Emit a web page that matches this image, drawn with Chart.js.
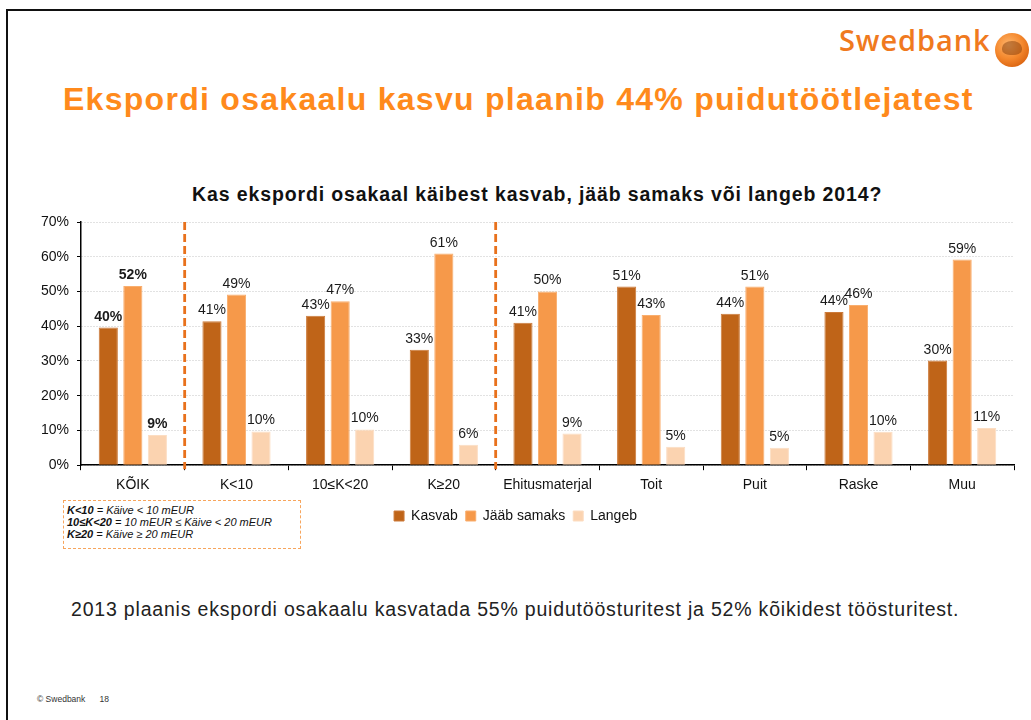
<!DOCTYPE html>
<html>
<head>
<meta charset="utf-8">
<script src="https://cdn.jsdelivr.net/npm/chart.js@4.4.1/dist/chart.umd.min.js"></script>
<style>
  html, body { margin:0; padding:0; background:#fff; }
  body { width:1031px; height:720px; position:relative; overflow:hidden; font-family:'Liberation Sans', Arial, Helvetica, sans-serif; }
  .abs { position:absolute; white-space:nowrap; }
  #frame { left:6px; top:9px; width:1040px; height:720px; border-top:2px solid #111; border-left:2px solid #111; }
  #logoText { left:839px; top:25px; font-family:'Open Sans', sans-serif; font-weight:600; font-size:29px; line-height:29px; color:#F07A1E; letter-spacing:0.9px; }
  #logoCircle { left:995px; top:33px; width:34px; height:34px; border-radius:50%;
    background: radial-gradient(circle at 40% 35%, #FDB66E 0%, #F5892E 45%, #D9620F 80%, #B64E0A 100%); }
  #logoTree { left:1002px; top:41px; width:20px; height:14px; border-radius:50% 50% 40% 40%; background:rgba(120,50,5,0.45); }
  #title { left:63px; top:83px; font-size:32px; line-height:32px; font-weight:bold; color:#FF8A1C; letter-spacing:1.28px; }
  #chartTitle { left:192px; top:185px; font-size:19.5px; line-height:19.5px; font-weight:bold; color:#111; letter-spacing:0.88px; }
  #canvasWrap { left:17px; top:200px; width:1014px; height:333px; }
  #keyBox { left:63px; top:500px; width:233px; height:44px; border:1.5px dashed #F7A55C; background:#fff;
    font-size:11px; line-height:12px; font-style:italic; color:#111; padding:3px 0 0 3px; }
  #bottomText { left:71px; top:600px; font-size:19.5px; line-height:19.5px; color:#222; letter-spacing:0.81px; }
  #footer { left:37px; top:695px; font-size:8.5px; line-height:9px; color:#333; }
</style>
</head>
<body>
<div id="frame" class="abs"></div>
<div id="logoText" class="abs">Swedbank</div>
<div id="logoCircle" class="abs"></div>
<div id="logoTree" class="abs"></div>
<div id="title" class="abs">Ekspordi osakaalu kasvu plaanib 44% puidutöötlejatest</div>
<div id="chartTitle" class="abs">Kas ekspordi osakaal käibest kasvab, jääb samaks või langeb 2014?</div>
<div id="canvasWrap" class="abs"><canvas id="c" width="1014" height="333"></canvas></div>
<div id="keyBox" class="abs"><b>K&lt;10</b> = Käive &lt; 10 mEUR<br><b>10≤K&lt;20</b> = 10 mEUR ≤ Käive &lt; 20 mEUR<br><b>K≥20</b> = Käive ≥ 20 mEUR</div>
<div id="bottomText" class="abs">2013 plaanis ekspordi osakaalu kasvatada 55% puidutöösturitest ja 52% kõikidest töösturitest.</div>
<div id="footer" class="abs">© Swedbank &nbsp;&nbsp;&nbsp;&nbsp;&nbsp;18</div>

<script>
// ---- data ----
const categories = ["KÕIK", "K<10", "10≤K<20", "K≥20", "Ehitusmaterjal", "Toit", "Puit", "Raske", "Muu"];
const seriesNames = ["Kasvab", "Jääb samaks", "Langeb"];
const kasvab     = [39.6, 41.4, 43.0, 33.2, 41.0, 51.4, 43.6, 44.1, 30.1];
const jaabSamaks = [51.6, 49.1, 47.2, 60.9, 50.0, 43.2, 51.4, 46.1, 59.2];
const langeb     = [8.7, 9.7, 10.3, 5.9, 9.1, 5.3, 5.0, 9.6, 10.7];
const yMin = 0, yMax = 70, yStep = 10;
const separatorAfter = [0, 3];   // dashed separators after these category indexes
const boldLabelCategory = 0;     // KÕIK labels are bold

const FONT = "'Liberation Sans', Arial, Helvetica, sans-serif";
Chart.defaults.font.family = FONT;
Chart.defaults.color = '#111';

const colors = ['#BF6418', '#F6994A', '#FBD3B0'];
const borders = ['#CC7A3A', '#F9AE6E', '#FCDDC2'];

const labelPlugin = {
  id: 'barLabels',
  afterDatasetsDraw(chart) {
    const ctx = chart.ctx;
    ctx.save();
    ctx.textAlign = 'center';
    ctx.textBaseline = 'alphabetic';
    ctx.fillStyle = '#1a1a1a';
    chart.data.datasets.forEach((ds, di) => {
      const meta = chart.getDatasetMeta(di);
      meta.data.forEach((el, i) => {
        ctx.font = (i === boldLabelCategory ? 'bold ' : '') + '14px ' + FONT;
        ctx.fillText(Math.round(ds.data[i]) + '%', el.x, el.y - 7);
      });
    });
    ctx.restore();
  }
};

const sepPlugin = {
  id: 'separators',
  afterDatasetsDraw(chart) {
    const ctx = chart.ctx, xs = chart.scales.x, a = chart.chartArea;
    ctx.save();
    ctx.strokeStyle = '#E8711C';
    ctx.lineWidth = 2.8;
    ctx.setLineDash([8, 4]);
    separatorAfter.forEach(i => {
      const x = (xs.getPixelForValue(i) + xs.getPixelForValue(i + 1)) / 2;
      ctx.beginPath();
      ctx.moveTo(x, a.top);
      ctx.lineTo(x, a.bottom + 4);
      ctx.stroke();
    });
    ctx.restore();
  }
};

new Chart(document.getElementById('c'), {
  type: 'bar',
  data: {
    labels: categories,
    datasets: [
      { label: seriesNames[0], data: kasvab, backgroundColor: colors[0], borderColor: borders[0], borderWidth: 1 },
      { label: seriesNames[1], data: jaabSamaks, backgroundColor: colors[1], borderColor: borders[1], borderWidth: 1 },
      { label: seriesNames[2], data: langeb, backgroundColor: colors[2], borderColor: borders[2], borderWidth: 1 }
    ]
  },
  options: {
    responsive: false,
    animation: false,
    devicePixelRatio: 1,
    layout: { padding: { top: 22, right: 17, left: 0, bottom: 0 } },
    datasets: { bar: { categoryPercentage: 0.71, barPercentage: 0.78 } },
    plugins: {
      legend: {
        position: 'bottom',
        labels: { boxWidth: 10, boxHeight: 10, padding: 8, font: { size: 14 }, color: '#111' }
      },
      tooltip: { enabled: false },
      title: { display: false }
    },
    scales: {
      x: {
        grid: { display: true, drawOnChartArea: false, drawTicks: true, tickLength: 5, tickColor: '#000', offset: true },
        border: { color: '#000', width: 1.5 },
        ticks: { font: { size: 14 }, color: '#111', padding: 7, autoSkip: false, maxRotation: 0 }
      },
      y: {
        min: yMin, max: yMax,
        ticks: { stepSize: yStep, callback: v => v + '%', font: { size: 14 }, color: '#111', padding: 8 },
        grid: { color: '#C4C4C4', tickColor: '#000', tickLength: 4, tickBorderDash: [], lineWidth: 1 },
        border: { color: '#000', width: 1.5, dash: [1, 2] },
        afterFit: s => { s.width = 64; }
      }
    }
  },
  plugins: [labelPlugin, sepPlugin]
});
</script>
</body>
</html>
